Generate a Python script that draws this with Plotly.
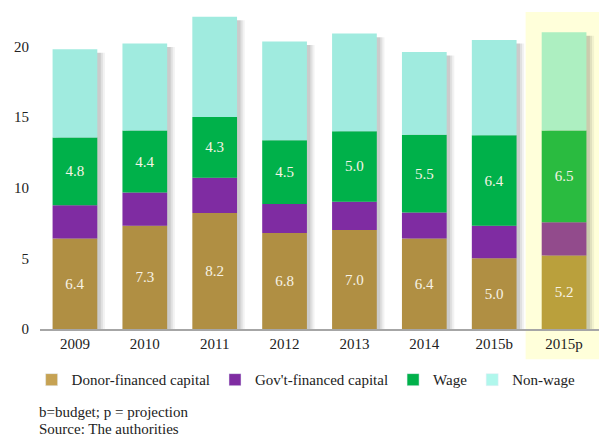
import numpy as np
import plotly.graph_objects as go

years = ["2009", "2010", "2011", "2012", "2013", "2014", "2015b", "2015p"]
donor = [6.4, 7.3, 8.2, 6.8, 7.0, 6.4, 5.0, 5.2]
govt = [2.35, 2.35, 2.5, 2.05, 2.0, 1.85, 2.3, 2.35]
wage = [4.8, 4.4, 4.3, 4.5, 5.0, 5.5, 6.4, 6.5]
nonwage = [6.25, 6.15, 7.1, 7.0, 6.9, 5.85, 6.75, 6.95]

series_names = ["Donor-financed capital", "Gov't-financed capital", "Wage", "Non-wage"]
series_vals = [donor, govt, wage, nonwage]
base_colors = ["#B08F43", "#7F2CA2", "#00B14A", "#A0EBDF"]
proj_colors = ["#BAA03C", "#924B8C", "#2ABB40", "#ADEFC1"]
legend_colors = ["#C6A253", "#7F2CA2", "#00B14A", "#B0F7EC"]
labelled = [True, False, True, False]

FONT = "Liberation Serif, Times New Roman, serif"
W = 0.64

fig = go.Figure()

vals = np.array(series_vals)
totals = vals.sum(axis=0)
bases = np.vstack([np.zeros(len(years)), np.cumsum(vals, axis=0)[:-1]])

# soft drop shadow behind bars
for shift, alpha in [(0.11, 0.05), (0.08, 0.07), (0.05, 0.09)]:
    fig.add_trace(go.Bar(
        x=years, y=totals - 0.25, base=0, width=W, offset=-W / 2 + shift,
        marker=dict(color=f"rgba(0,0,0,{alpha})", line=dict(width=0)),
        showlegend=False, hoverinfo="skip",
    ))

for i, name in enumerate(series_names):
    cols = [base_colors[i]] * (len(years) - 1) + [proj_colors[i]]
    fig.add_trace(go.Bar(
        x=years, y=series_vals[i], base=bases[i], name=name,
        width=W, offset=-W / 2,
        marker=dict(color=cols, line=dict(width=0)),
        text=[f"{v:.1f}" for v in series_vals[i]] if labelled[i] else None,
        textposition="inside" if labelled[i] else "none",
        insidetextanchor="middle", textangle=0,
        textfont=dict(family=FONT, size=15, color="#F7F3E6"),
        showlegend=False,
    ))

# legend entries
for i, name in enumerate(series_names):
    fig.add_trace(go.Bar(
        x=[None], y=[None], name=name,
        marker=dict(color=legend_colors[i]), showlegend=True,
    ))

fig.add_shape(type="rect", xref="x", yref="paper",
              x0=6.45, x1=7.5, y0=-0.095, y1=0.997,
              fillcolor="#FFFFDA", line=dict(width=0), layer="below")

fig.add_annotation(text="b=budget; p = projection", xref="paper", yref="paper",
                   x=-0.005, y=-0.262, xanchor="left", yanchor="middle",
                   showarrow=False, font=dict(family=FONT, size=15, color="#222"))
fig.add_annotation(text="Source: The authorities", xref="paper", yref="paper",
                   x=-0.005, y=-0.313, xanchor="left", yanchor="middle",
                   showarrow=False, font=dict(family=FONT, size=15, color="#222"))

fig.update_layout(
    width=599, height=436,
    margin=dict(l=40, r=0, t=11, b=107),
    barmode="overlay",
    plot_bgcolor="white", paper_bgcolor="white",
    font=dict(family=FONT, size=15, color="#222"),
    showlegend=True,
    legend=dict(orientation="h", x=-0.015, y=-0.16, xanchor="left", yanchor="middle",
                font=dict(family=FONT, size=15, color="#222"),
                itemwidth=30, tracegroupgap=0),
    xaxis=dict(type="category", categoryorder="array", categoryarray=years,
               range=[-0.5, 7.5], showgrid=False, showline=True,
               linecolor="#A6A6A6", linewidth=2, ticks="", zeroline=False,
               tickfont=dict(family=FONT, size=15, color="#222")),
    yaxis=dict(range=[0, 22.5], tickvals=[0, 5, 10, 15, 20], showgrid=False,
               showline=False, zeroline=False, ticks="", ticklabelstandoff=10,
               tickfont=dict(family=FONT, size=15, color="#222")),
)

fig.write_html("out.html", config={"displayModeBar": False},
               post_script="document.body.style.margin='0';")
